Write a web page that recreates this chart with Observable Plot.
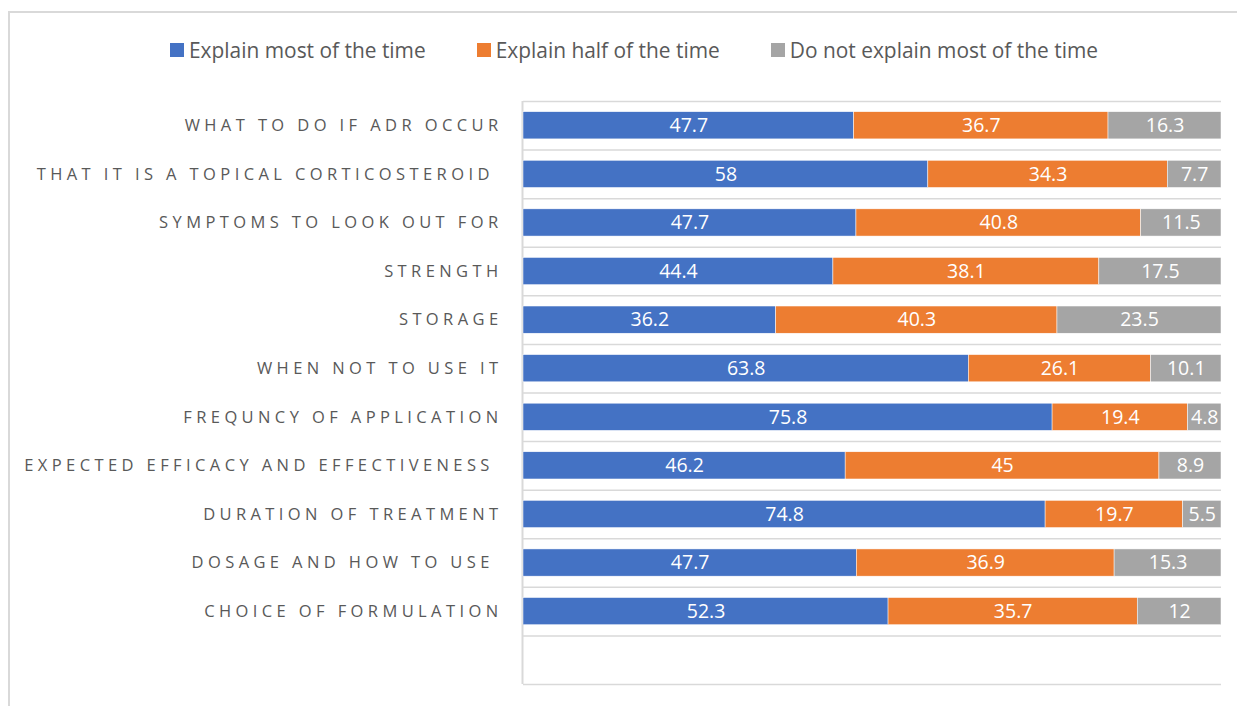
<!DOCTYPE html>
<html><head><meta charset="utf-8">
<script src="https://cdn.jsdelivr.net/npm/d3@7"></script>
<script src="https://cdn.jsdelivr.net/npm/@observablehq/plot@0.6"></script>
<style>
body{margin:0;background:#fff;font-family:"Open Sans",sans-serif;}
#wrap{position:relative;width:1237px;height:706px;overflow:hidden;}
#frame{position:absolute;left:8px;top:11px;width:1400px;height:900px;border-left:2px solid #d9d9d9;border-top:2px solid #d9d9d9;}
#legend{position:absolute;left:170px;top:36px;height:28px;display:flex;align-items:center;gap:51px;font-size:20.9px;color:#595959;white-space:nowrap}
.item{display:flex;align-items:center;gap:5px}
.sw{width:14px;height:14px;display:inline-block}
#chart{position:absolute;left:0;top:90px}
#chart g[aria-label="y-axis tick label"] text{letter-spacing:4.4px;white-space:pre}
</style>
</head><body>
<div id="wrap"><div id="frame"></div><div id="legend"></div><div id="chart"></div></div>
<script>
const categories = [
  "WHAT TO DO IF ADR OCCUR",
  "THAT IT IS A TOPICAL CORTICOSTEROID ",
  "SYMPTOMS TO LOOK OUT FOR",
  "STRENGTH",
  "STORAGE",
  "WHEN NOT TO USE IT",
  "FREQUNCY OF APPLICATION",
  "EXPECTED EFFICACY AND EFFECTIVENESS ",
  "DURATION OF TREATMENT",
  "DOSAGE AND HOW TO USE ",
  "CHOICE OF FORMULATION"
];
const explainMost = [47.7, 58, 47.7, 44.4, 36.2, 63.8, 75.8, 46.2, 74.8, 47.7, 52.3];
const explainHalf = [36.7, 34.3, 40.8, 38.1, 40.3, 26.1, 19.4, 45, 19.7, 36.9, 35.7];
const notExplain = [16.3, 7.7, 11.5, 17.5, 23.5, 10.1, 4.8, 8.9, 5.5, 15.3, 12];
const seriesNames = ["Explain most of the time", "Explain half of the time", "Do not explain most of the time"];
const seriesColors = ["#4472C4", "#ED7D31", "#A5A5A5"];

const seriesValues = [explainMost, explainHalf, notExplain];
const rows = categories.flatMap((c, i) => seriesValues.map((arr, k) => ({cat: c, series: seriesNames[k], value: arr[i]})));
const yDomain = [...categories, " "];

// legend
const legend = document.getElementById("legend");
seriesNames.forEach((s, k) => {
  const it = document.createElement("div"); it.className = "item";
  const sw = document.createElement("span"); sw.className = "sw"; sw.style.background = seriesColors[k];
  const tx = document.createElement("span"); tx.textContent = s;
  it.append(sw, tx); legend.append(it);
});

const H = 616, mT = 11, mB = 22;
const step = (H - mT - mB) / yDomain.length;
const chart = Plot.plot({
  width: 1237, height: H, marginLeft: 523, marginRight: 16, marginTop: mT, marginBottom: mB,
  style: {fontFamily: "Open Sans", background: "transparent", color: "#595959"},
  x: {domain: [0, 1], axis: null},
  y: {domain: yDomain, paddingInner: 0.44, paddingOuter: 0.22, round: false, label: null, axis: null},
  color: {domain: seriesNames, range: seriesColors},
  marks: [
    Plot.ruleY(yDomain, {dy: -step / 2, stroke: "#d9d9d9", strokeWidth: 1.5}),
    Plot.ruleY([" "], {dy: step / 2, stroke: "#d9d9d9", strokeWidth: 1.5}),
    Plot.ruleX([0], {stroke: "#d9d9d9", strokeWidth: 2, dx: -1}),
    Plot.barX(rows, Plot.stackX({x: "value", y: "cat", fill: "series", offset: "normalize", stroke: "white", strokeWidth: 0.5})),
    Plot.text(rows, Plot.stackX({x: "value", y: "cat", z: "series", text: d => String(d.value), offset: "normalize", fill: "white", fontSize: 19.5})),
    Plot.axisY({tickSize: 0, tickPadding: 21, fontSize: 16.5, fill: "#595959", label: null})
  ]
});
document.getElementById("chart").append(chart);
</script>
</body></html>
